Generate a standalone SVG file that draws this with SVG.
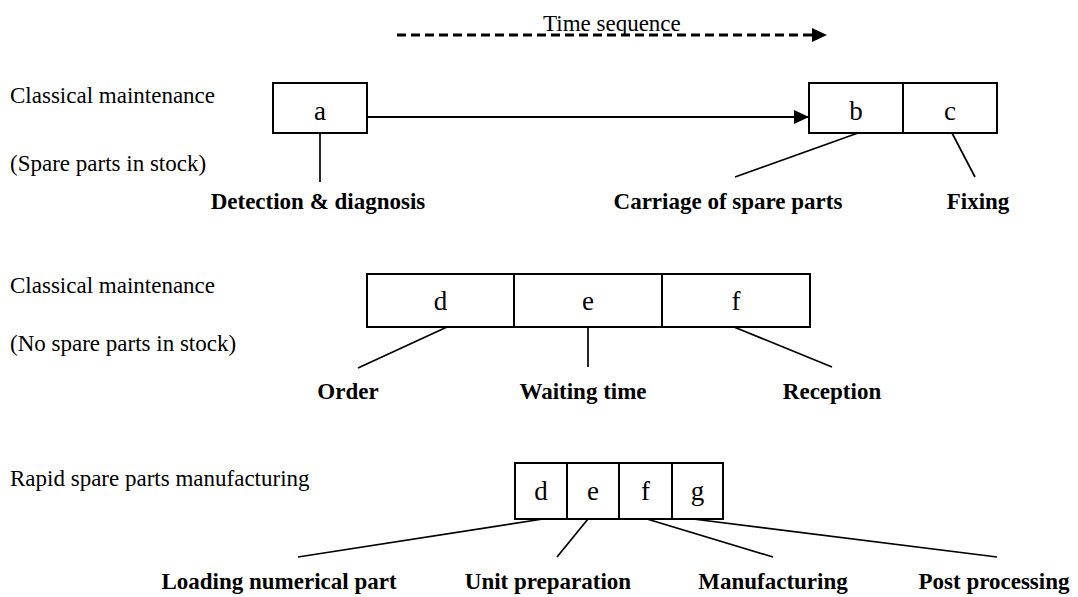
<svg xmlns="http://www.w3.org/2000/svg" width="1078" height="597" viewBox="0 0 1078 597">
  <style>
    .t { font-family: "Liberation Serif", "Times New Roman", serif; font-size: 23px; fill: #000; }
    .lbl { font-family: "Liberation Serif", "Times New Roman", serif; font-size: 23px; font-weight: bold; fill: #000; text-anchor: middle; }
    .cell { font-family: "Liberation Serif", "Times New Roman", serif; font-size: 27px; fill: #000; text-anchor: middle; }
    .box { fill: #fff; stroke: #000; stroke-width: 2; }
    .lead { stroke: #000; stroke-width: 1.7; fill: none; }
  </style>
  <defs>
    <marker id="head" viewBox="0 0 15 14" refX="15" refY="7" markerWidth="15" markerHeight="14" markerUnits="userSpaceOnUse" orient="auto">
      <path d="M0,0 L15,7 L0,14 Z" fill="#000"/>
    </marker>
  </defs>

  <rect width="1078" height="597" fill="#fff"/>

  <!-- time axis -->
  <g id="time-axis">
    <line x1="397" y1="35" x2="812" y2="35" stroke="#000" stroke-width="3" stroke-dasharray="9 5"/>
    <path d="M812,28 L827,35 L812,42 Z" fill="#000"/>
    <text class="t" x="543" y="31">Time sequence</text>
  </g>

  <!-- row titles -->
  <g id="titles">
    <text class="t" x="10" y="103">Classical maintenance</text>
    <text class="t" x="10" y="171">(Spare parts in stock)</text>
    <text class="t" x="10" y="293">Classical maintenance</text>
    <text class="t" x="10" y="351">(No spare parts in stock)</text>
    <text class="t" x="10" y="486">Rapid spare parts manufacturing</text>
  </g>

  <!-- scenario 1: spare parts in stock -->
  <g id="node-a">
    <rect class="box" x="273" y="83" width="94" height="50"/>
    <text class="cell" x="320" y="120">a</text>
  </g>
  <g id="node-b">
    <rect class="box" x="809" y="83" width="94" height="50"/>
    <text class="cell" x="856" y="120">b</text>
  </g>
  <g id="node-c">
    <rect class="box" x="903" y="83" width="94" height="50"/>
    <text class="cell" x="950" y="120">c</text>
  </g>

  <!-- scenario 2: no spare parts in stock -->
  <g id="node-d1">
    <rect class="box" x="367" y="274" width="147" height="53"/>
    <text class="cell" x="440.5" y="310">d</text>
  </g>
  <g id="node-e1">
    <rect class="box" x="514" y="274" width="148" height="53"/>
    <text class="cell" x="588" y="310">e</text>
  </g>
  <g id="node-f1">
    <rect class="box" x="662" y="274" width="148" height="53"/>
    <text class="cell" x="736" y="310">f</text>
  </g>

  <!-- scenario 3: rapid manufacturing -->
  <g id="node-d2">
    <rect class="box" x="515" y="463" width="52" height="56"/>
    <text class="cell" x="541" y="500">d</text>
  </g>
  <g id="node-e2">
    <rect class="box" x="567" y="463" width="52" height="56"/>
    <text class="cell" x="593" y="500">e</text>
  </g>
  <g id="node-f2">
    <rect class="box" x="619" y="463" width="53" height="56"/>
    <text class="cell" x="645.5" y="500">f</text>
  </g>
  <g id="node-g2">
    <rect class="box" x="672" y="463" width="51" height="56"/>
    <text class="cell" x="697.5" y="500">g</text>
  </g>

  <!-- connectors and leader lines -->
  <g id="connectors">
    <line x1="367" y1="117" x2="809" y2="117" stroke="#000" stroke-width="2" marker-end="url(#head)"/>
    <line class="lead" x1="320" y1="133" x2="320" y2="182"/>
    <line class="lead" x1="858" y1="133" x2="735" y2="177"/>
    <line class="lead" x1="952" y1="133" x2="975" y2="177"/>

    <line class="lead" x1="447" y1="327" x2="358" y2="368"/>
    <line class="lead" x1="588" y1="327" x2="588" y2="367"/>
    <line class="lead" x1="734" y1="327" x2="832" y2="367"/>

    <line class="lead" x1="543" y1="519" x2="298" y2="557"/>
    <line class="lead" x1="588" y1="519" x2="557" y2="557"/>
    <line class="lead" x1="647" y1="519" x2="773" y2="557"/>
    <line class="lead" x1="693" y1="519" x2="997" y2="557"/>
  </g>

  <!-- step labels -->
  <g id="labels">
    <text class="lbl" x="318" y="209">Detection &amp; diagnosis</text>
    <text class="lbl" x="728" y="209">Carriage of spare parts</text>
    <text class="lbl" x="978" y="209">Fixing</text>

    <text class="lbl" x="348" y="399">Order</text>
    <text class="lbl" x="583" y="399">Waiting time</text>
    <text class="lbl" x="832" y="399">Reception</text>

    <text class="lbl" x="279" y="589">Loading numerical part</text>
    <text class="lbl" x="548" y="589">Unit preparation</text>
    <text class="lbl" x="773" y="589">Manufacturing</text>
    <text class="lbl" x="994" y="589">Post processing</text>
  </g>
</svg>
